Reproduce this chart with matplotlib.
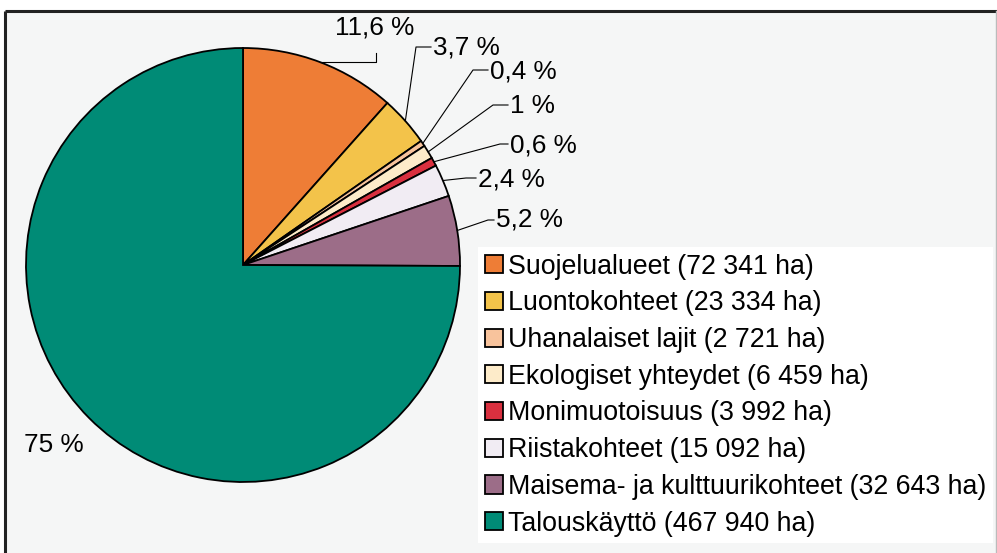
import numpy as np
import matplotlib.pyplot as plt
from matplotlib.patches import Rectangle

plt.rcParams['font.family'] = ['Liberation Sans', 'DejaVu Sans']

categories = ['Suojelualueet', 'Luontokohteet', 'Uhanalaiset lajit', 'Ekologiset yhteydet',
              'Monimuotoisuus', 'Riistakohteet', 'Maisema- ja kulttuurikohteet', 'Talouskäyttö']
hectares = [72341, 23334, 2721, 6459, 3992, 15092, 32643, 467940]
ha_labels = ['72 341', '23 334', '2 721', '6 459', '3 992', '15 092', '32 643', '467 940']
pct_labels = ['11,6 %', '3,7 %', '0,4 %', '1 %', '0,6 %', '2,4 %', '5,2 %', '75 %']
colors = ['#ee7d36', '#f3c34a', '#f8c39c', '#fdebc9', '#d9303f', '#f1ecf3', '#9c6d88', '#008b76']

W, H = 997, 553
fig = plt.figure(figsize=(W / 100, H / 100), dpi=100)
ax = fig.add_axes([0, 0, 1, 1])

# background panel and frame (pixel units)
ax.add_patch(Rectangle((5, 0), 991, H - 11, fc='#f5f6f6', ec='none', zorder=0))
ax.plot([5, W], [H - 11, H - 11], color='#222222', lw=2.2, zorder=1, solid_capstyle='butt')
ax.plot([5, 5], [0, H - 11], color='#222222', lw=2.2, zorder=1, solid_capstyle='butt')
ax.plot([996, 996], [0, H - 11], color='#bbbbbb', lw=1, zorder=1)

cx, cy, r = 243, H - 265, 217
wedges, _ = ax.pie(hectares, colors=colors, startangle=90, counterclock=False,
                   center=(cx, cy), radius=r,
                   wedgeprops=dict(edgecolor='black', linewidth=1.3))
ax.set_xlim(0, W)
ax.set_ylim(0, H)
ax.axis('off')

# label layout: text position, elbow point (pixels from top-left)
layout = [
    (375, 28, 376, 53, 'center'),
    (433, 48, 416, 47, 'left'),
    (490, 72, 473, 70, 'left'),
    (510, 106, 493, 105, 'left'),
    (510, 145, 500, 144, 'left'),
    (478, 180, 466, 178, 'left'),
    (496, 220, 488, 220, 'left'),
    (24, 445, None, None, 'left'),
]
fs = 18.8
for w, lab, (tx, ty, ex, ey, ha) in zip(wedges, pct_labels, layout):
    ax.text(tx, H - ty, lab, fontsize=fs, ha=ha, va='center')
    if ex is None:
        continue
    ang = np.deg2rad((w.theta1 + w.theta2) / 2)
    px, py = cx + r * np.cos(ang), cy + r * np.sin(ang)
    if ha == 'center':
        xs = [px, ex, ex]
        ys = [py, py, H - ey]
    else:
        xs = [px, ex, tx - 2]
        ys = [py, H - ey, H - ey]
    ax.plot(xs, ys, color='black', lw=0.8, zorder=3)

leg_labels = [f'{c} ({h} ha)' for c, h in zip(categories, ha_labels)]
leg = ax.legend(wedges, leg_labels, loc='upper left', bbox_to_anchor=(478 / W, 1 - 247 / H),
                bbox_transform=ax.transAxes, fontsize=19.25, frameon=True, fancybox=False,
                borderaxespad=0, borderpad=0.25, handlelength=0.67, handleheight=0.67,
                handletextpad=0.22, labelspacing=0.40)
leg.get_frame().set_facecolor('white')
leg.get_frame().set_edgecolor('none')
leg.get_frame().set_alpha(1)

fig.savefig('out.png', dpi=100)
